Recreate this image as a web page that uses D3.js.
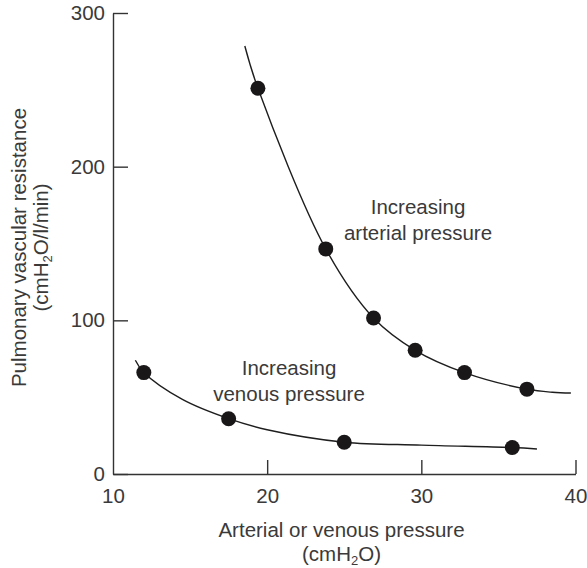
<!DOCTYPE html>
<html>
<head>
<meta charset="utf-8">
<script src="https://cdn.jsdelivr.net/npm/d3@7"></script>
<style>
  html, body { margin: 0; padding: 0; background: #fff; }
  svg { display: block; }
  text { font-family: "Liberation Sans", Arial, sans-serif; fill: #3a3a3a; }
</style>
</head>
<body>
<script>
// Measured points (pressure in cmH2O, resistance in cmH2O/l/min)
const arterialPressure = [19.4, 23.8, 26.9, 29.6, 32.8, 36.85];
const arterialResistance = [251, 146.5, 101.5, 80.5, 66, 55.2];
const venousPressure = [12.0, 17.5, 25.0, 35.9];
const venousResistance = [66, 36, 20.7, 17.2];

// Fitted trend curves drawn through the measurements
const arterialCurveX = [18.55, 19.4, 23.8, 26.9, 29.6, 32.8, 36.85, 38.5, 39.7];
const arterialCurveY = [278.5, 251, 146.5, 101.5, 80.5, 66, 55.2, 53.2, 52.7];
const venousCurveX = [11.45, 12.0, 14.5, 17.5, 20, 25.0, 30, 35.9, 37.5];
const venousCurveY = [74, 66, 48.5, 36, 28.8, 20.7, 18.8, 17.2, 16.3];

const xTicks = [10, 20, 30, 40];
const yTicks = [0, 100, 200, 300];

const W = 587, H = 568;
const FS = 20.5;

const svg = d3.select("body").append("svg")
  .attr("width", W).attr("height", H);

const x = d3.scaleLinear().domain([10, 40]).range([113, 575.5]);
const y = d3.scaleLinear().domain([0, 300]).range([474, 13]);

const axisColor = "#333";

// Y axis with inward ticks
const gy = svg.append("g")
  .attr("transform", `translate(${x(10)},0)`)
  .call(d3.axisLeft(y).tickValues(yTicks).tickSizeInner(-15).tickSizeOuter(0).tickPadding(8));
// X axis with inward ticks
const gx = svg.append("g")
  .attr("transform", `translate(0,${y(0)})`)
  .call(d3.axisBottom(x).tickValues(xTicks).tickSizeInner(-14).tickSizeOuter(0).tickPadding(14));

[gx, gy].forEach(g => {
  g.select(".domain").attr("stroke", axisColor).attr("stroke-width", 1.4);
  g.selectAll(".tick line").attr("stroke", axisColor).attr("stroke-width", 1.4);
  g.selectAll(".tick text")
    .attr("fill", "#3a3a3a")
    .style("font-family", '"Liberation Sans", Arial, sans-serif')
    .style("font-size", FS + "px");
});
gx.selectAll(".tick").filter(d => d === 10).select("line").remove();

// Trend curves
const line = d3.line()
  .x(d => x(d[0])).y(d => y(d[1]))
  .curve(d3.curveCatmullRom.alpha(0.5));

svg.append("path")
  .datum(arterialCurveX.map((v, i) => [v, arterialCurveY[i]]))
  .attr("d", line)
  .attr("fill", "none").attr("stroke", "#1e1e1e").attr("stroke-width", 1.4);

svg.append("path")
  .datum(venousCurveX.map((v, i) => [v, venousCurveY[i]]))
  .attr("d", line)
  .attr("fill", "none").attr("stroke", "#1e1e1e").attr("stroke-width", 1.4);

// Data points
const dotR = 7.5;
svg.append("g").selectAll("circle")
  .data(arterialPressure.map((v, i) => [v, arterialResistance[i]]))
  .join("circle")
  .attr("cx", d => x(d[0])).attr("cy", d => y(d[1])).attr("r", dotR)
  .attr("fill", "#1a1718");

svg.append("g").selectAll("circle")
  .data(venousPressure.map((v, i) => [v, venousResistance[i]]))
  .join("circle")
  .attr("cx", d => x(d[0])).attr("cy", d => y(d[1])).attr("r", dotR)
  .attr("fill", "#1a1718");

// Annotations
function label(lines, cx, baseline, spacing) {
  const t = svg.append("text")
    .attr("text-anchor", "middle")
    .style("font-size", FS + "px");
  lines.forEach((s, i) => {
    t.append("tspan").attr("x", cx).attr("y", baseline + i * spacing).text(s);
  });
}
label(["Increasing", "arterial pressure"], 418, 214, 26);
label(["Increasing", "venous pressure"], 289, 375, 25.5);

// X axis title
label(["Arterial or venous pressure"], 341.5, 537, 0);
const xt2 = svg.append("text")
  .attr("text-anchor", "middle")
  .attr("x", 341.5).attr("y", 560.5)
  .style("font-size", FS + "px");
xt2.append("tspan").text("(cmH");
xt2.append("tspan").attr("dy", 4).style("font-size", "13px").text("2");
xt2.append("tspan").attr("dy", -4).text("O)");

// Y axis title
const yt = svg.append("g").attr("transform", "translate(26,247.5) rotate(-90)");
yt.append("text")
  .attr("text-anchor", "middle")
  .style("font-size", FS + "px")
  .text("Pulmonary vascular resistance");
const yt2 = svg.append("g").attr("transform", "translate(47.5,247.5) rotate(-90)")
  .append("text")
  .attr("text-anchor", "middle")
  .style("font-size", FS + "px");
yt2.append("tspan").text("(cmH");
yt2.append("tspan").attr("dy", 4).style("font-size", "13px").text("2");
yt2.append("tspan").attr("dy", -4).text("O/l/min)");
</script>
</body>
</html>
